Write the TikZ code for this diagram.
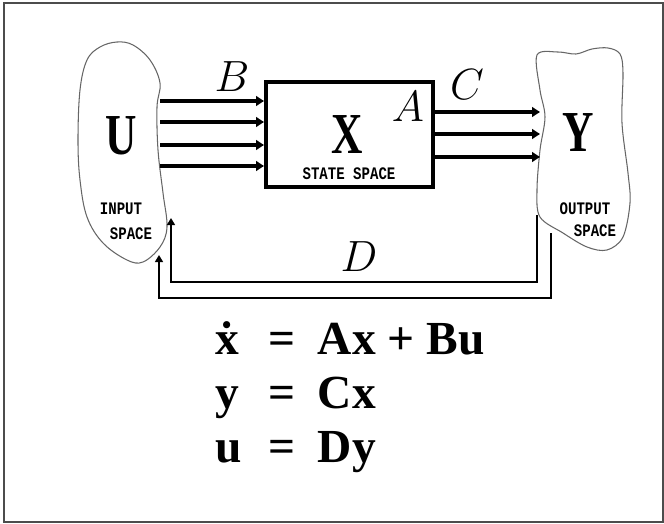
\documentclass[tikz,border=0pt]{standalone}
\usepackage{graphicx}
\usepackage{fontspec}
\setmainfont{Liberation Serif}
\setmonofont{Liberation Mono}
\usetikzlibrary{arrows.meta}

\begin{document}
\begin{tikzpicture}[x=0.02cm, y=-0.02cm,
        bus/.style={line width=2.1pt, -{Triangle[length=4.5pt, width=5.5pt]}},
        lazo/.style={line width=1.6pt, -{Triangle[length=4pt, width=4.5pt]}},
        nube/.style={draw=black!60, line width=0.6pt},
        caja/.style={draw, line width=2.3pt, minimum width=3.34cm, minimum height=2.1cm},
        letra/.style={inner sep=0pt, font=\fontsize{33}{33}\selectfont\bfseries},
        rotulo/.style={inner sep=0pt, font=\fontsize{10}{10}\selectfont\ttfamily\bfseries},
        gan/.style={inner sep=0pt, font=\fontsize{27}{27}\selectfont}]
        \useasboundingbox (0,0) rectangle (664,524);
        \draw[black!70, line width=0.8pt] (4,3) rectangle (663,522);

        % Espacio de entrada
        \draw[nube] plot[smooth cycle, tension=0.6] coordinates {(117,42) (100,47) (87,60) (80,90)
            (78,140) (80,180) (87,217) (103,243) (127,260) (143,262) (160,247) (167,227)
            (163,193) (158,150) (157,107) (160,83) (150,60) (133,45)};
        \node[letra] (u) at (121,136) {\scalebox{0.75}[1]{U}};
        \node[rotulo] (uin) at (121,209) {\scalebox{0.8}[1]{INPUT}};
        \node[rotulo] (usp) at (131,234) {\scalebox{0.8}[1]{SPACE}};

        % Espacio de estados
        \node[caja] (xbox) at (349.5,134.5) {};
        \node[letra] (x) at (347,135) {\scalebox{0.75}[1]{X}};
        \node[rotulo] (xsp) at (349,174) {\scalebox{0.8}[1]{STATE SPACE}};
        \node[gan] (a) at (408,107) {$A$};

        % Espacio de salida
        \draw[nube] plot[smooth cycle, tension=0.55] coordinates {(537,55) (558,52) (576,54)
            (592,49) (608,48) (620,54) (623,73) (622,123) (628,173) (630,203) (623,237)
            (607,250) (587,247) (563,233) (540,217) (537,190) (540,150) (545,117) (540,90)};
        \node[letra] (y) at (578,133) {\scalebox{0.75}[1]{Y}};
        \node[rotulo] (yout) at (585,209) {\scalebox{0.8}[1]{OUTPUT}};
        \node[rotulo] (ysp) at (595,231) {\scalebox{0.8}[1]{SPACE}};

        % Entradas B
        \foreach \i/\yy in {1/101, 2/122, 3/145, 4/166} {
            \coordinate (b\i) at (160,\yy);
            \draw[bus] (b\i) -- (b\i -| xbox.west);
        }
        \node[gan] (bl) at (232,77) {$B$};

        % Salidas C
        \foreach \i/\yy in {1/112, 2/134, 3/157} {
            \coordinate (c\i) at (540,\yy);
            \draw[bus] (c\i -| xbox.east) -- (c\i);
        }
        \node[gan] (cl) at (467,85) {$C$};

        % Realimentacion D
        \coordinate (din) at (537,215);
        \coordinate (dinend) at (171,218);
        \coordinate (dout) at (551,233);
        \coordinate (doutend) at (159,255);
        \draw[lazo] (din) -- ++(0,67) -| (dinend);
        \draw[lazo] (dout) -- ++(0,65) -| (doutend);
        \node[gan] (dl) at (359,257) {$D$};

        % Ecuaciones
        \node[anchor=base west, inner sep=0pt, font=\fontsize{27}{30.6}\selectfont\bfseries] (eqs) at (215,355)
            {\begin{tabular}[t]{@{}l@{\hspace{15pt}}c@{\hspace{13pt}}l@{}}
                \.x & = & Ax + Bu\\
                y & = & Cx\\
                u & = & Dy
            \end{tabular}};
    \end{tikzpicture}
\end{document}
